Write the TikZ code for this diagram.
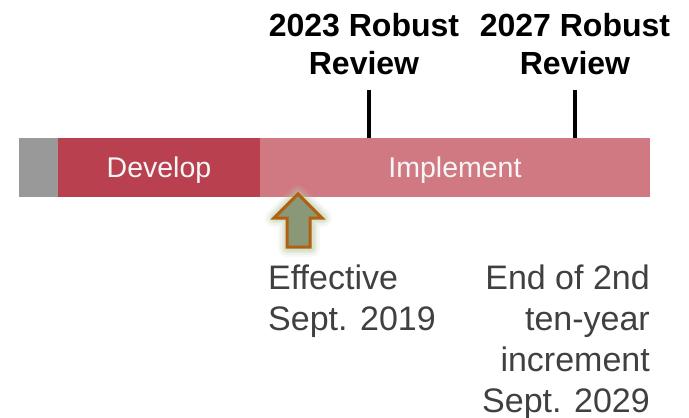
\documentclass[tikz,border=0pt]{standalone}
\usepackage{fontspec}
\setmainfont{Liberation Sans}
\definecolor{barGray}{HTML}{999999}
\definecolor{devRed}{HTML}{B8404F}
\definecolor{impPink}{HTML}{D17983}
\definecolor{txtGray}{HTML}{404040}
\definecolor{arrFill}{HTML}{8A9878}
\definecolor{arrLine}{HTML}{B0600F}
\definecolor{glow}{HTML}{B8C8A4}
\begin{document}
\begin{tikzpicture}[x=1pt,y=-1pt,
  bar/.style={draw=none,inner sep=0,outer sep=0,anchor=north west},
  bartext/.style={text=white!93!gray,font=\fontsize{28.5}{34}\selectfont},
  review/.style={font=\fontsize{32}{38}\bfseries\selectfont,align=center,inner sep=0,anchor=north},
  note/.style={font=\fontsize{34}{41}\selectfont,text=txtGray,inner sep=0,anchor=north},
  tick/.style={line width=4pt}]
\useasboundingbox (0,0) rectangle (689,418);
% bars
\node[bar,fill=barGray,minimum width=39,minimum height=59] (pre) at (19,138) {};
\node[bar,fill=devRed,minimum width=202,minimum height=59] (dev) at (58,138) {};
\node[bar,fill=impPink,minimum width=390,minimum height=59] (imp) at (260,138) {};
\node[bartext] at ([yshift=-3pt]dev.center) {Develop};
\node[bartext] at ([yshift=-3pt]imp.center) {Implement};
% ticks
\coordinate (t1) at (369,90);
\coordinate (t2) at (575,90);
\draw[tick] (t1) -- (t1 |- imp.north);
\draw[tick] (t2) -- (t2 |- imp.north);
% review labels
\node[review] (r1) at (364,13) {2023 Robust\\Review};
\node[review] (r2) at (575,13) {2027 Robust\\Review};
% arrow with glow
\foreach \w/\o in {18/0.10,14/0.15,10/0.2,7/0.25} {
  \draw[glow,line width=\w pt,opacity=\o,line join=round]
    (298,194) -- (323,218) -- (311,218) -- (311,248) -- (287,248) -- (287,218) -- (274,218) -- cycle;
}
\draw[fill=arrFill,draw=arrLine,line width=3pt,line join=miter]
  (298,194) -- (322,218) -- (310,218) -- (310,247) -- (287,247) -- (287,218) -- (274,218) -- cycle;
% notes
\node[note,align=left,anchor=north west] (eff) at (268,265) {Effective\\Sept. 2019};
\node[note,align=right,anchor=north east] (end) at (650,265) {End of 2nd\\ten-year\\increment\\Sept. 2029};
\end{tikzpicture}
\end{document}
